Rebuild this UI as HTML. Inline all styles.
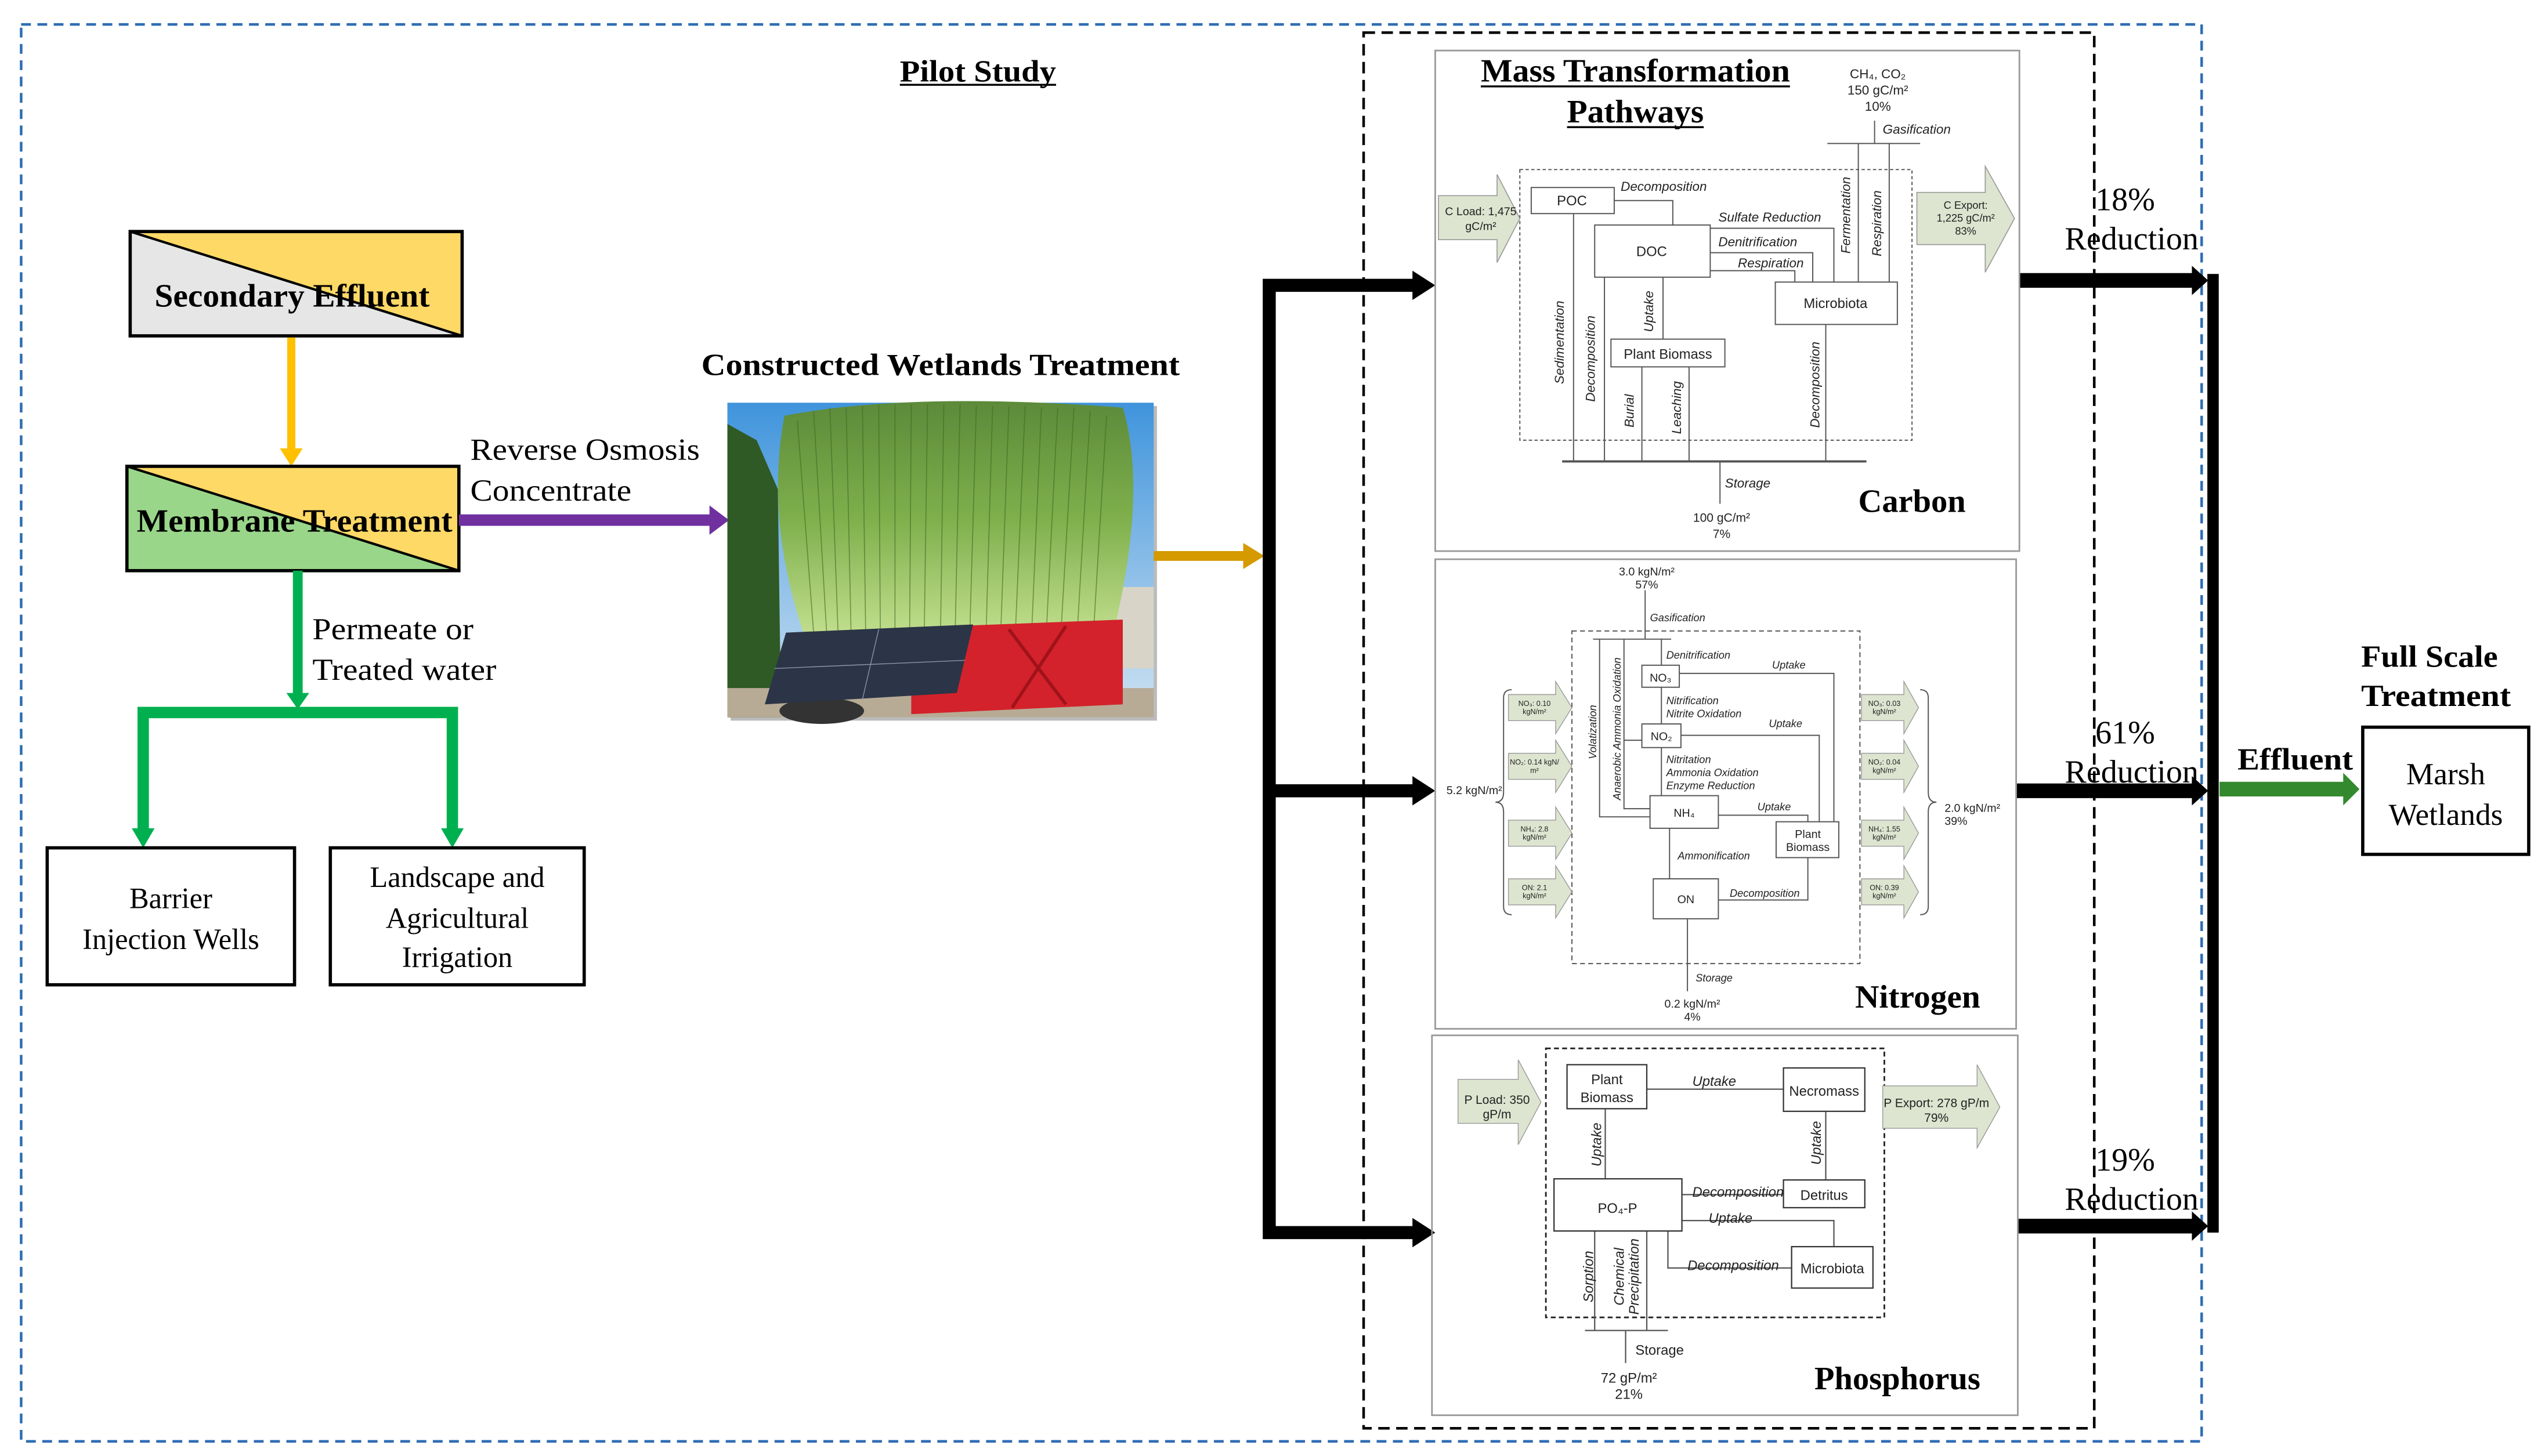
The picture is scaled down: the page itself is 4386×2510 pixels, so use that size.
<!DOCTYPE html>
<html><head><meta charset="utf-8"><style>
html,body{margin:0;padding:0;background:#fff;}
svg{display:block;}
.s{font-family:"Liberation Serif",serif;}
.a{font-family:"Liberation Sans",sans-serif;}
</style></head><body>
<svg width="4386" height="2510" viewBox="0 0 1564 893" preserveAspectRatio="none" xmlns="http://www.w3.org/2000/svg">
<defs>
<linearGradient id="sky" x1="0" y1="0" x2="0" y2="1"><stop offset="0" stop-color="#3f94dc"/><stop offset="1" stop-color="#cfe3f2"/></linearGradient>
<linearGradient id="reed" x1="0" y1="0" x2="0" y2="1"><stop offset="0" stop-color="#5c8a3a"/><stop offset="0.5" stop-color="#7fb04c"/><stop offset="1" stop-color="#c4e090"/></linearGradient>
</defs>
<rect width="1564" height="893" fill="#fff"/>
<rect x="13" y="15" width="1340" height="869" fill="none" stroke="#2e6db4" stroke-width="1.6" stroke-dasharray="6,4"/>
<rect x="838" y="20" width="449" height="856" fill="none" stroke="#000" stroke-width="1.6" stroke-dasharray="7,4"/>

<text class="s" x="553" y="50" font-size="19" font-weight="bold" textLength="96" lengthAdjust="spacingAndGlyphs">Pilot Study</text>
<line x1="553" y1="52" x2="649" y2="52" stroke="#000" stroke-width="1.2"/>

<polygon points="80,142 284,206 80,206" fill="#e6e6e6"/>
<polygon points="80,142 284,142 284,206" fill="#ffd966"/>
<rect x="80" y="142" width="204" height="64" fill="none" stroke="#000" stroke-width="2"/>
<line x1="80" y1="142" x2="284" y2="206" stroke="#000" stroke-width="1.5"/>
<text class="s" x="95" y="188" font-size="20" font-weight="bold" textLength="169" lengthAdjust="spacingAndGlyphs">Secondary Effluent</text>
<line x1="179" y1="207" x2="179" y2="276" stroke="#ffc000" stroke-width="5"/>
<polygon points="172,275 186,275 179,286" fill="#ffc000"/>

<polygon points="78,286 282,350 78,350" fill="#9ad68a"/>
<polygon points="78,286 282,286 282,350" fill="#ffd966"/>
<rect x="78" y="286" width="204" height="64" fill="none" stroke="#000" stroke-width="2"/>
<line x1="78" y1="286" x2="282" y2="350" stroke="#000" stroke-width="1.5"/>
<text class="s" x="84" y="326" font-size="20" font-weight="bold" textLength="194" lengthAdjust="spacingAndGlyphs">Membrane Treatment</text>
<line x1="282" y1="319" x2="438" y2="319" stroke="#7030a0" stroke-width="7"/>
<polygon points="436,310 448,319 436,328" fill="#7030a0"/>
<text class="s" x="289" y="282" font-size="19" textLength="141" lengthAdjust="spacingAndGlyphs">Reverse Osmosis</text>
<text class="s" x="289" y="307" font-size="19" textLength="99" lengthAdjust="spacingAndGlyphs">Concentrate</text>

<line x1="183" y1="350" x2="183" y2="427" stroke="#00b050" stroke-width="6"/>
<polygon points="176,425 190,425 183,435" fill="#00b050"/>
<polyline points="88,510 88,437 278,437 278,510" fill="none" stroke="#00b050" stroke-width="7"/>
<polygon points="81,508 95,508 88,520" fill="#00b050"/>
<polygon points="271,508 285,508 278,520" fill="#00b050"/>
<text class="s" x="192" y="392" font-size="19" textLength="99" lengthAdjust="spacingAndGlyphs">Permeate or</text>
<text class="s" x="192" y="417" font-size="19" textLength="113" lengthAdjust="spacingAndGlyphs">Treated water</text>

<rect x="29" y="520" width="152" height="84" fill="none" stroke="#000" stroke-width="2"/>
<text class="s" x="105" y="557" font-size="18" text-anchor="middle">Barrier</text>
<text class="s" x="105" y="582" font-size="18" text-anchor="middle">Injection Wells</text>
<rect x="203" y="520" width="156" height="84" fill="none" stroke="#000" stroke-width="2"/>
<text class="s" x="281" y="544" font-size="18" text-anchor="middle">Landscape and</text>
<text class="s" x="281" y="569" font-size="18" text-anchor="middle">Agricultural</text>
<text class="s" x="281" y="593" font-size="18" text-anchor="middle">Irrigation</text>

<!-- photo -->
<text class="s" x="431" y="230" font-size="19" font-weight="bold" textLength="294" lengthAdjust="spacingAndGlyphs">Constructed Wetlands Treatment</text>
<rect x="449" y="249" width="262" height="193" fill="#bbb"/>
<rect x="447" y="247" width="262" height="193" fill="url(#sky)"/>
<polygon points="447,260 465,270 478,300 480,440 447,440" fill="#2f5a25"/>
<rect x="670" y="360" width="39" height="50" fill="#d8d4c8"/>
<path d="M482,255 Q560,240 690,250 Q705,300 685,385 L495,392 Q470,320 482,255 Z" fill="url(#reed)"/>
<g stroke="#3e6a22" stroke-width="0.6" opacity="0.6">
<line x1="490" y1="258" x2="500" y2="388"/><line x1="500" y1="252" x2="508" y2="388"/><line x1="510" y1="250" x2="515" y2="388"/><line x1="520" y1="250" x2="523" y2="388"/><line x1="530" y1="249" x2="532" y2="388"/><line x1="540" y1="248" x2="541" y2="388"/><line x1="550" y1="248" x2="550" y2="388"/><line x1="560" y1="248" x2="559" y2="388"/><line x1="570" y1="248" x2="568" y2="388"/><line x1="580" y1="248" x2="578" y2="388"/><line x1="590" y1="248" x2="587" y2="388"/><line x1="600" y1="249" x2="596" y2="388"/><line x1="610" y1="249" x2="606" y2="388"/><line x1="620" y1="249" x2="615" y2="388"/><line x1="630" y1="249" x2="624" y2="388"/><line x1="640" y1="250" x2="634" y2="388"/><line x1="650" y1="250" x2="643" y2="388"/><line x1="660" y1="250" x2="652" y2="388"/><line x1="670" y1="252" x2="662" y2="388"/><line x1="680" y1="255" x2="672" y2="388"/>
</g>
<rect x="447" y="422" width="262" height="18" fill="#b7ab95"/>
<polygon points="560,385 690,380 690,432 560,438" fill="#d3222b"/>
<g stroke="#a0121a" stroke-width="2"><line x1="620" y1="386" x2="655" y2="432"/><line x1="655" y1="384" x2="622" y2="434"/></g>
<ellipse cx="505" cy="436" rx="26" ry="8" fill="#333"/>
<polygon points="483,388 598,383 588,425 470,432" fill="#2c3447"/>
<g stroke="#8a95aa" stroke-width="0.5"><line x1="540" y1="386" x2="530" y2="429"/><line x1="476" y1="410" x2="593" y2="405"/></g>

<line x1="709" y1="341" x2="766" y2="341" stroke="#d49a00" stroke-width="6"/>
<polygon points="764,333 777,341 764,349" fill="#d49a00"/>

<polyline points="870,175 780,175 780,756 870,756" fill="none" stroke="#000" stroke-width="8"/>
<line x1="780" y1="485" x2="870" y2="485" stroke="#000" stroke-width="8"/>
<polygon points="868,166 882,175 868,184" fill="#000"/>
<polygon points="868,476 882,485 868,494" fill="#000"/>
<polygon points="868,747 882,756 868,765" fill="#000"/>

<line x1="1241" y1="172" x2="1350" y2="172" stroke="#000" stroke-width="9"/>
<line x1="1239" y1="485" x2="1350" y2="485" stroke="#000" stroke-width="9"/>
<line x1="1240" y1="752" x2="1350" y2="752" stroke="#000" stroke-width="9"/>
<polygon points="1347,163 1357,172 1347,181" fill="#000"/>
<polygon points="1347,476 1357,485 1347,494" fill="#000"/>
<polygon points="1347,743 1357,752 1347,761" fill="#000"/>
<line x1="1360" y1="168" x2="1360" y2="756" stroke="#000" stroke-width="7"/>
<line x1="1364" y1="484" x2="1442" y2="484" stroke="#338a2e" stroke-width="9"/>
<polygon points="1440,474 1450,484 1440,494" fill="#338a2e"/>
<text class="s" x="1306" y="129" font-size="20" text-anchor="middle">18%</text>
<text class="s" x="1310" y="153" font-size="20" text-anchor="middle">Reduction</text>
<text class="s" x="1306" y="456" font-size="20" text-anchor="middle">61%</text>
<text class="s" x="1310" y="480" font-size="20" text-anchor="middle">Reduction</text>
<text class="s" x="1306" y="718" font-size="20" text-anchor="middle">19%</text>
<text class="s" x="1310" y="742" font-size="20" text-anchor="middle">Reduction</text>
<text class="s" x="1375" y="472" font-size="19" font-weight="bold" textLength="71" lengthAdjust="spacingAndGlyphs">Effluent</text>
<text class="s" x="1451" y="409" font-size="19" font-weight="bold" textLength="84" lengthAdjust="spacingAndGlyphs">Full Scale</text>
<text class="s" x="1451" y="433" font-size="19" font-weight="bold" textLength="92" lengthAdjust="spacingAndGlyphs">Treatment</text>
<rect x="1452" y="446" width="102" height="78" fill="none" stroke="#000" stroke-width="2"/>
<text class="s" x="1503" y="481" font-size="19" text-anchor="middle">Marsh</text>
<text class="s" x="1503" y="506" font-size="19" text-anchor="middle">Wetlands</text>

<rect x="882" y="31" width="359" height="307" fill="none" stroke="#999" stroke-width="1"/>
<rect x="882" y="343" width="357" height="288" fill="none" stroke="#999" stroke-width="1"/>
<rect x="880" y="635" width="360" height="233" fill="none" stroke="#999" stroke-width="1"/>

<!-- CARBON -->
<g class="a" fill="#222">
<text class="s" x="910" y="50" font-size="20" font-weight="bold" fill="#000" textLength="190" lengthAdjust="spacingAndGlyphs">Mass Transformation</text>
<line x1="910" y1="53" x2="1100" y2="53" stroke="#000" stroke-width="1.2"/>
<text class="s" x="963" y="75" font-size="20" font-weight="bold" fill="#000" textLength="84" lengthAdjust="spacingAndGlyphs">Pathways</text>
<line x1="963" y1="78" x2="1047" y2="78" stroke="#000" stroke-width="1.2"/>
<text x="1154" y="48" font-size="8" text-anchor="middle">CH₄, CO₂</text>
<text x="1154" y="58" font-size="8" text-anchor="middle">150 gC/m²</text>
<text x="1154" y="68" font-size="8" text-anchor="middle">10%</text>
<text x="1157" y="82" font-size="8" font-style="italic">Gasification</text>
<text class="s" x="1142" y="314" font-size="20" font-weight="bold" fill="#000" textLength="66" lengthAdjust="spacingAndGlyphs">Carbon</text>
</g>
<g stroke="#555" stroke-width="0.7" fill="none">
<line x1="1152" y1="88" x2="1152" y2="74"/>
<line x1="1123" y1="88" x2="1180" y2="88"/>
<line x1="1142" y1="174" x2="1142" y2="88"/><line x1="1161" y1="174" x2="1161" y2="88"/>
<rect x="934" y="104" width="241" height="166" stroke-dasharray="2,1.5"/>
<line x1="960" y1="283" x2="1147" y2="283" stroke-width="1.4"/>
<line x1="1057" y1="283" x2="1057" y2="309"/>
<line x1="967" y1="131" x2="967" y2="283"/>
<line x1="986" y1="283" x2="986" y2="170"/>
<line x1="1022" y1="170" x2="1022" y2="208"/>
<line x1="1009" y1="225" x2="1009" y2="283"/>
<line x1="1038" y1="225" x2="1038" y2="283"/>
<line x1="1122" y1="199" x2="1122" y2="283"/>
<polyline points="992,123 1028,123 1028,138"/>
<polyline points="1051,140 1127,140 1127,173"/>
<polyline points="1051,155 1114,155 1114,173"/>
<polyline points="1051,166 1103,166 1103,173"/>
</g>
<polygon points="884,120 920,120 920,107 934,134 920,161 920,147 884,147" fill="#dde5d0" stroke="#999" stroke-width="0.6"/>
<polygon points="1178,118 1220,118 1220,102 1238,134 1220,167 1220,150 1178,150" fill="#dde5d0" stroke="#999" stroke-width="0.6"/>
<g class="a" fill="#222">
<text x="910" y="132" font-size="7" text-anchor="middle">C Load: 1,475</text>
<text x="910" y="141" font-size="7" text-anchor="middle">gC/m²</text>
<text x="1208" y="128" font-size="6.5" text-anchor="middle">C Export:</text>
<text x="1208" y="136" font-size="6.5" text-anchor="middle">1,225 gC/m²</text>
<text x="1208" y="144" font-size="6.5" text-anchor="middle">83%</text>
</g>
<g fill="#fff" stroke="#555" stroke-width="0.7">
<rect x="941" y="115" width="51" height="16"/>
<rect x="980" y="138" width="71" height="32"/>
<rect x="1091" y="173" width="75" height="26"/>
<rect x="990" y="208" width="70" height="17"/>
</g>
<g class="a" fill="#222" font-size="8.5">
<text x="966" y="126" text-anchor="middle">POC</text>
<text x="1015" y="157" text-anchor="middle">DOC</text>
<text x="1128" y="189" text-anchor="middle">Microbiota</text>
<text x="1025" y="220" text-anchor="middle">Plant Biomass</text>
<g font-style="italic" font-size="8">
<text x="996" y="117">Decomposition</text>
<text x="1056" y="136">Sulfate Reduction</text>
<text x="1056" y="151">Denitrification</text>
<text x="1068" y="164">Respiration</text>
<text x="1060" y="299">Storage</text>
<text transform="translate(961,210) rotate(-90)" text-anchor="middle">Sedimentation</text>
<text transform="translate(980,220) rotate(-90)" text-anchor="middle">Decomposition</text>
<text transform="translate(1016,191) rotate(-90)" text-anchor="middle">Uptake</text>
<text transform="translate(1004,252) rotate(-90)" text-anchor="middle">Burial</text>
<text transform="translate(1033,250) rotate(-90)" text-anchor="middle">Leaching</text>
<text transform="translate(1118,236) rotate(-90)" text-anchor="middle">Decomposition</text>
<text transform="translate(1137,132) rotate(-90)" text-anchor="middle">Fermentation</text>
<text transform="translate(1156,137) rotate(-90)" text-anchor="middle">Respiration</text>
</g>
<text x="1058" y="320" font-size="7.5" text-anchor="middle">100 gC/m²</text>
<text x="1058" y="330" font-size="7.5" text-anchor="middle">7%</text>
</g>

<!-- NITROGEN -->
<g stroke="#555" stroke-width="0.7" fill="none">
<rect x="966" y="387" width="177" height="204" stroke-dasharray="3,2"/>
<line x1="1011" y1="392" x2="1011" y2="362"/>
<line x1="979" y1="392" x2="1027" y2="392"/>
<line x1="1021" y1="408" x2="1021" y2="392"/>
<line x1="1021" y1="444" x2="1021" y2="421"/>
<line x1="1021" y1="488" x2="1021" y2="458"/>
<line x1="1026" y1="539" x2="1026" y2="508"/>
<line x1="1037" y1="563" x2="1037" y2="608"/>
<polyline points="1014,501 983,501 983,392"/>
<polyline points="1014,496 998,496 998,392"/>
<line x1="1009" y1="454" x2="998" y2="454"/>
<polyline points="1032,413 1127,413 1127,504"/>
<polyline points="1033,451 1118,451 1118,504"/>
<polyline points="1056,500 1111,500 1111,504"/>
<polyline points="1111,526 1111,552 1056,552"/>
<path d="M929,423 q-5,0 -5,5 v58 q0,6 -5,6 q5,0 5,6 v58 q0,5 5,5"/>
<path d="M1180,423 q5,0 5,5 v58 q0,6 5,6 q-5,0 -5,6 v58 q0,5 -5,5"/>
</g>
<g fill="#dde5d0" stroke="#999" stroke-width="0.5">
<polygon points="927,426 956,426 956,418 966,434 956,450 956,442 927,442"/>
<polygon points="927,462 956,462 956,454 966,470 956,486 956,478 927,478"/>
<polygon points="927,503 956,503 956,495 966,511 956,527 956,519 927,519"/>
<polygon points="927,539 956,539 956,531 966,547 956,563 956,555 927,555"/>
<polygon points="1144,426 1170,426 1170,418 1179,434 1170,450 1170,442 1144,442"/>
<polygon points="1144,462 1170,462 1170,454 1179,470 1170,486 1170,478 1144,478"/>
<polygon points="1144,503 1170,503 1170,495 1179,511 1170,527 1170,519 1144,519"/>
<polygon points="1144,539 1170,539 1170,531 1179,547 1170,563 1170,555 1144,555"/>
</g>
<g fill="#fff" stroke="#555" stroke-width="0.7">
<rect x="1009" y="408" width="23" height="13.5"/>
<rect x="1009" y="444" width="24" height="14.5"/>
<rect x="1014" y="488" width="42" height="20"/>
<rect x="1091.5" y="504" width="38.5" height="22"/>
<rect x="1016" y="539" width="40" height="24.5"/>
</g>
<g class="a" fill="#222">
<text x="1012" y="353" font-size="7" text-anchor="middle">3.0 kgN/m²</text>
<text x="1012" y="361" font-size="7" text-anchor="middle">57%</text>
<g font-size="7" text-anchor="middle">
<text x="1020.5" y="418">NO₃</text>
<text x="1021" y="454">NO₂</text>
<text x="1035" y="501">NH₄</text>
<text x="1111" y="514">Plant</text>
<text x="1111" y="522">Biomass</text>
<text x="1036" y="554">ON</text>
</g>
<g font-size="6.5" font-style="italic">
<text x="1014" y="381">Gasification</text>
<text x="1024" y="404">Denitrification</text>
<text x="1024" y="432">Nitrification</text>
<text x="1024" y="440">Nitrite Oxidation</text>
<text x="1024" y="468">Nitritation</text>
<text x="1024" y="476">Ammonia Oxidation</text>
<text x="1024" y="484">Enzyme Reduction</text>
<text x="1089" y="410">Uptake</text>
<text x="1087" y="446">Uptake</text>
<text x="1080" y="497">Uptake</text>
<text x="1031" y="527">Ammonification</text>
<text x="1063" y="550">Decomposition</text>
<text x="1042" y="602">Storage</text>
<text transform="translate(981,449) rotate(-90)" text-anchor="middle">Volatization</text>
<text transform="translate(996,447) rotate(-90)" text-anchor="middle">Anaerobic Ammonia Oxidation</text>
</g>
<text x="1040" y="618" font-size="7" text-anchor="middle">0.2 kgN/m²</text>
<text x="1040" y="626" font-size="7" text-anchor="middle">4%</text>
<text x="906" y="487" font-size="7" text-anchor="middle">5.2 kgN/m²</text>
<text x="1195" y="498" font-size="7">2.0 kgN/m²</text>
<text x="1195" y="506" font-size="7">39%</text>
<g font-size="4.5" text-anchor="middle">
<text x="943" y="433">NO₃: 0.10</text><text x="943" y="438">kgN/m²</text>
<text x="943" y="469">NO₂: 0.14 kgN/</text><text x="943" y="474">m²</text>
<text x="943" y="510">NH₄: 2.8</text><text x="943" y="515">kgN/m²</text>
<text x="943" y="546">ON: 2.1</text><text x="943" y="551">kgN/m²</text>
<text x="1158" y="433">NO₃: 0.03</text><text x="1158" y="438">kgN/m²</text>
<text x="1158" y="469">NO₂: 0.04</text><text x="1158" y="474">kgN/m²</text>
<text x="1158" y="510">NH₄: 1.55</text><text x="1158" y="515">kgN/m²</text>
<text x="1158" y="546">ON: 0.39</text><text x="1158" y="551">kgN/m²</text>
</g>
<text class="s" x="1140" y="618" font-size="20" font-weight="bold" fill="#000" textLength="77" lengthAdjust="spacingAndGlyphs">Nitrogen</text>
</g>

<!-- PHOSPHORUS -->
<g stroke="#555" stroke-width="0.8" fill="none">
<rect x="950" y="643" width="208" height="165" stroke="#222" stroke-width="1" stroke-dasharray="3,2"/>
<line x1="1012" y1="668" x2="1096" y2="668"/>
<line x1="1122" y1="681.6" x2="1122" y2="723.7"/>
<line x1="986.5" y1="723" x2="986.5" y2="680"/>
<line x1="1096" y1="732.7" x2="1033.6" y2="732.7"/>
<polyline points="1033.6,748.6 1127,748.6 1127,764.6"/>
<polyline points="1101,777.7 1025,777.7 1025,755"/>
<line x1="980" y1="755" x2="980" y2="816"/>
<line x1="1012" y1="755" x2="1012" y2="816"/>
<line x1="974" y1="816" x2="1025" y2="816"/>
<line x1="999" y1="816" x2="999" y2="836"/>
</g>
<polygon points="896,662 933,662 933,650 947,676 933,702 933,689 896,689" fill="#dde5d0" stroke="#999" stroke-width="0.5"/>
<polygon points="1157,666 1215,666 1215,653 1229,679 1215,704 1215,692 1157,692" fill="#dde5d0" stroke="#999" stroke-width="0.5"/>
<g fill="#fff" stroke="#333" stroke-width="0.8">
<rect x="963" y="653" width="49" height="27"/>
<rect x="1096" y="655" width="50" height="26.6"/>
<rect x="1096" y="723.7" width="50" height="17"/>
<rect x="955" y="723" width="78.6" height="32"/>
<rect x="1101" y="764.6" width="50" height="25.4"/>
</g>
<g class="a" fill="#222">
<g font-size="8.5" text-anchor="middle">
<text x="987.5" y="665">Plant</text>
<text x="987.5" y="676">Biomass</text>
<text x="1121" y="672">Necromass</text>
<text x="1121" y="736">Detritus</text>
<text x="994" y="744">PO₄-P</text>
<text x="1126" y="781">Microbiota</text>
</g>
<g font-size="8.5" font-style="italic">
<text x="1040" y="666">Uptake</text>
<text x="1040" y="734">Decomposition</text>
<text x="1050" y="750">Uptake</text>
<text x="1037" y="779">Decomposition</text>
<text transform="translate(984,702) rotate(-90)" text-anchor="middle">Uptake</text>
<text transform="translate(1119,701) rotate(-90)" text-anchor="middle">Uptake</text>
<text transform="translate(979,783) rotate(-90)" text-anchor="middle">Sorption</text>
<text transform="translate(998,783) rotate(-90)" text-anchor="middle">Chemical</text>
<text transform="translate(1007,783) rotate(-90)" text-anchor="middle">Precipitation</text>
</g>
<text x="1005" y="831" font-size="8.5">Storage</text>
<text x="1001" y="848" font-size="8.5" text-anchor="middle">72 gP/m²</text>
<text x="1001" y="858" font-size="8.5" text-anchor="middle">21%</text>
<text x="920" y="677" font-size="7.5" text-anchor="middle">P Load: 350</text>
<text x="920" y="686" font-size="7.5" text-anchor="middle">gP/m</text>
<text x="1190" y="679" font-size="7.5" text-anchor="middle">P Export: 278 gP/m</text>
<text x="1190" y="688" font-size="7.5" text-anchor="middle">79%</text>
<text class="s" x="1115" y="852" font-size="20" font-weight="bold" fill="#000" textLength="102" lengthAdjust="spacingAndGlyphs">Phosphorus</text>
</g>
</svg>
</body></html>
